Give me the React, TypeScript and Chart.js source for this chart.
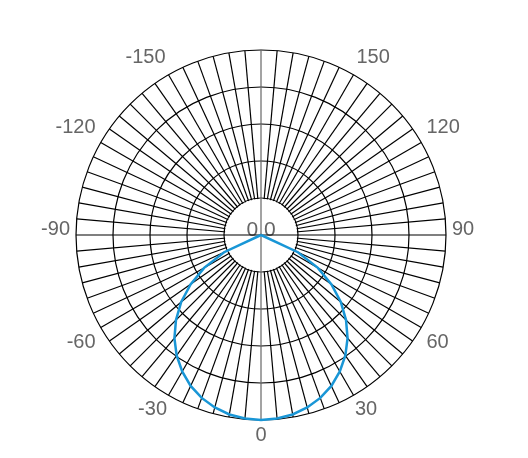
import { useEffect, useRef } from 'react'
import { Chart, ChartConfiguration, Plugin, RadialLinearScale, registerables } from 'chart.js'

Chart.register(...registerables)

// angle categories, clockwise from the top of the plot
const angleLabels: number[] = [
  180, 175, 170, 165, 160, 155, 150, 145, 140, 135, 130, 125, 120, 115, 110, 105, 100, 95,
  90, 85, 80, 75, 70, 65, 60, 55, 50, 45, 40, 35, 30, 25, 20, 15, 10, 5,
  0, -5, -10, -15, -20, -25, -30, -35, -40, -45, -50, -55, -60, -65, -70, -75, -80, -85,
  -90, -95, -100, -105, -110, -115, -120, -125, -130, -135, -140, -145, -150, -155, -160, -165, -170, -175
]

// labelled directions
const shownLabels: number[] = [150, 120, 90, 60, 30, 0, -30, -60, -90, -120, -150]

// measured pattern (relative radius)
const patternAngles: number[] = [
  70, 65, 60, 55, 50, 45, 40, 35, 30, 25, 20, 15, 10, 5, 0,
  -5, -10, -15, -20, -25, -30, -35, -40, -45, -50, -55, -60, -65, -70
]
const patternValues: number[] = [
  0, 0.22, 0.355, 0.465, 0.563, 0.65, 0.728, 0.795, 0.852, 0.9, 0.937, 0.965, 0.985, 0.996, 1.0,
  0.996, 0.985, 0.965, 0.937, 0.9, 0.852, 0.795, 0.728, 0.65, 0.563, 0.465, 0.355, 0.22, 0
]

const radialMin = 0
const radialMax = 1
const radialStep = 0.2
const centerLabel = '0.0'

const FONT = '"Liberation Sans", Arial, sans-serif'

const isSide = (a: number) => a === 90 || a === -90
const isLow = (a: number) => a === 0 || a === 30 || a === -30

const holePlugin: Plugin<'radar'> = {
  id: 'hole',
  beforeDatasetsDraw(chart) {
    const scale = chart.scales.r as RadialLinearScale
    const ctx = chart.ctx
    const rad = scale.getDistanceFromCenterForValue(radialMin + radialStep)
    const cx = scale.xCenter
    const cy = scale.yCenter
    ctx.save()
    // clear the spokes inside the first ring
    ctx.fillStyle = '#fff'
    ctx.beginPath()
    ctx.arc(cx, cy, rad - 0.8, 0, Math.PI * 2)
    ctx.fill()
    // centre label
    ctx.fillStyle = '#666'
    ctx.font = '21px ' + FONT
    ctx.textAlign = 'center'
    ctx.textBaseline = 'alphabetic'
    ctx.fillText(centerLabel, cx, cy + 1)
    // axis cross through the hole
    ctx.lineWidth = 1.2
    ctx.strokeStyle = '#000'
    ctx.beginPath()
    ctx.moveTo(cx - rad, cy)
    ctx.lineTo(cx + rad, cy)
    ctx.stroke()
    ctx.strokeStyle = '#666'
    ctx.beginPath()
    ctx.moveTo(cx, cy - rad)
    ctx.lineTo(cx, cy + rad)
    ctx.stroke()
    ctx.restore()
  }
}

export default function App() {
  const chartRef = useRef<HTMLCanvasElement | null>(null)
  const chartInstance = useRef<Chart | null>(null)

  useEffect(() => {
    if (!chartRef.current) return
    const ctx = chartRef.current.getContext('2d')
    if (!ctx) return

    if (chartInstance.current) {
      chartInstance.current.destroy()
    }

    // put the pattern into the category slots, no data elsewhere
    const series = angleLabels.map(a => {
      const i = patternAngles.indexOf(a)
      return i >= 0 ? patternValues[i] : null
    })

    const config: ChartConfiguration<'radar'> = {
      type: 'radar',
      data: {
        labels: angleLabels.map(String),
        datasets: [
          {
            label: 'pattern',
            data: series,
            borderColor: '#1996d6',
            borderWidth: 2.5,
            pointRadius: 0,
            fill: false,
            tension: 0,
            spanGaps: false
          }
        ]
      },
      options: {
        animation: false,
        responsive: true,
        maintainAspectRatio: false,
        layout: { padding: { top: 12, bottom: -8, left: 0, right: 6 } },
        plugins: {
          legend: { display: false },
          tooltip: { enabled: false }
        },
        scales: {
          r: {
            min: radialMin,
            max: radialMax,
            ticks: { display: false, stepSize: radialStep },
            grid: { circular: true, color: '#000', lineWidth: 1.2 },
            angleLines: {
              color: c => (angleLabels[c.index] === 0 || angleLabels[c.index] === 180 ? '#666' : '#000'),
              lineWidth: 1.2
            },
            pointLabels: {
              color: '#666',
              padding: c => (isLow(angleLabels[c.index]) ? 3 : 6),
              font: c => ({
                size: 20,
                family: FONT,
                lineHeight: isSide(angleLabels[c.index]) ? 0.6 : 1.2
              }),
              callback: (label: string) => {
                const a = Number(label)
                if (!shownLabels.includes(a)) return ''
                return isSide(a) ? [label, ''] : label
              }
            }
          }
        }
      },
      plugins: [holePlugin]
    }

    chartInstance.current = new Chart(ctx, config)

    return () => {
      if (chartInstance.current) {
        chartInstance.current.destroy()
        chartInstance.current = null
      }
    }
  }, [])

  return (
    <div style={{ position: 'relative', width: 512, height: 442 }}>
      <canvas ref={chartRef} />
    </div>
  )
}
